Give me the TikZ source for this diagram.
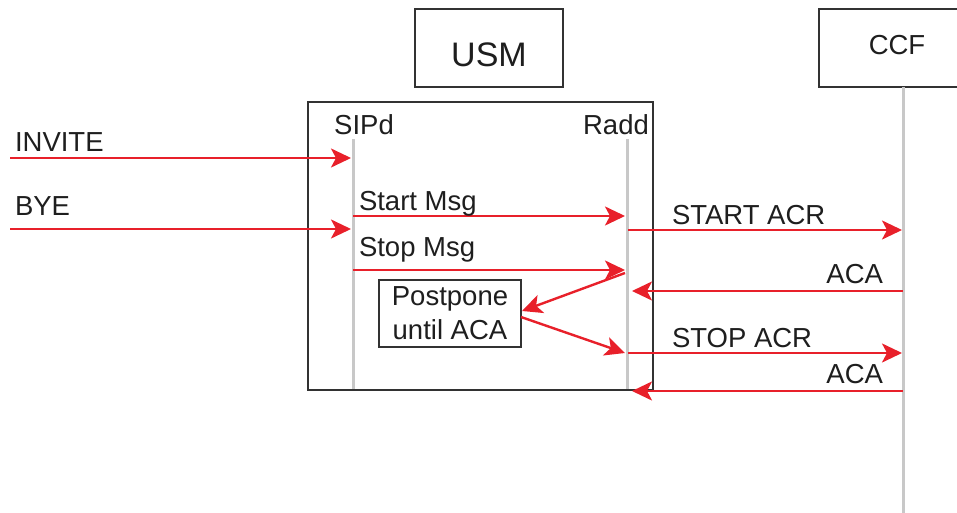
\documentclass[tikz,border=0pt]{standalone}
\usepackage{fontspec}
\setmainfont{Liberation Sans}
\usetikzlibrary{arrows.meta}
\definecolor{msgred}{RGB}{232,32,42}
\definecolor{lifegray}{RGB}{200,200,200}
\definecolor{boxgray}{RGB}{50,50,50}
\definecolor{txtgray}{RGB}{30,30,30}
\tikzset{
  every node/.style={inner sep=0pt, outer sep=0pt, text=txtgray, font=\fontsize{27.5}{30}\selectfont},
  entity/.style={draw=boxgray, line width=2.4pt, fill=white},
  lifeline/.style={draw=lifegray, line width=3pt},
  msg/.style={draw=msgred, line width=2.4pt, -{Stealth[length=20pt,width=19pt,inset=5pt]}},
  lbl/.style={anchor=base west},
  lblr/.style={anchor=base east},
}
\begin{document}
\begin{tikzpicture}[x=1pt,y=-1pt]
\useasboundingbox (0,0) rectangle (957,513);
% entities
\draw[entity] (415,9) rectangle (563,87);
\node[anchor=base] (usm) at (489,67) {\fontsize{34}{36}\selectfont USM};
\draw[entity] (819,9) rectangle (970,87);
\node[anchor=base] (ccf) at (897,55) {CCF};
\draw[entity, fill=none] (308,102) rectangle (653,390);
% lifelines
\coordinate (ccfT) at (903,87);
\coordinate (ccfB) at (903,513);
\draw[lifeline] (ccfT) -- (ccfB);
\coordinate (sipT) at (353,139);
\coordinate (sipB) at (353,389);
\draw[lifeline] (sipT) -- (sipB);
\coordinate (radT) at (627,139);
\coordinate (radB) at (627,389);
\draw[lifeline] (radT) -- (radB);
\node[anchor=base] (sipd) at (364,135) {SIPd};
\node[anchor=base] (radd) at (616,135) {Radd};
% postpone box
\node[entity, draw, line width=2pt, minimum width=142pt, minimum height=67pt, align=center,
      font=\fontsize{27.5}{34}\selectfont] (pp) at (450,313) {Postpone\\until ACA};
% INVITE / BYE
\coordinate (invA) at (10,158);
\coordinate (invB) at (351,158);
\draw[msg] (invA) -- (invB);
\node[lbl] (invite) at (15,152) {INVITE};
\coordinate (byeA) at (10,229);
\coordinate (byeB) at (351,229);
\draw[msg] (byeA) -- (byeB);
\node[lbl] (bye) at (15,215) {BYE};
% internal messages
\coordinate (stA) at (353,216);
\coordinate (stB) at (625,216);
\draw[msg] (stA) -- (stB);
\node[lbl] (startmsg) at (359,210) {Start Msg};
\coordinate (spA) at (353,270);
\coordinate (spB) at (625,270);
\draw[msg] (spA) -- (spB);
\node[lbl] (stopmsg) at (359,256) {Stop Msg};
\coordinate (d1A) at (625,273);
\coordinate (d1B) at (522,311);
\draw[msg] (d1A) -- (d1B);
\coordinate (d2A) at (521,317);
\coordinate (d2B) at (625,353);
\draw[msg] (d2A) -- (d2B);
% external messages
\coordinate (saA) at (628,230);
\coordinate (saB) at (902,230);
\draw[msg] (saA) -- (saB);
\node[lbl] (startacr) at (672,224) {START ACR};
\coordinate (a1A) at (903,291);
\coordinate (a1B) at (632,291);
\draw[msg] (a1A) -- (a1B);
\node[lblr] (aca1) at (883,283) {ACA};
\coordinate (soA) at (628,353);
\coordinate (soB) at (902,353);
\draw[msg] (soA) -- (soB);
\node[lbl] (stopacr) at (672,347) {STOP ACR};
\coordinate (a2A) at (903,391);
\coordinate (a2B) at (632,391);
\draw[msg] (a2A) -- (a2B);
\node[lblr] (aca2) at (883,383) {ACA};
\end{tikzpicture}
\end{document}
